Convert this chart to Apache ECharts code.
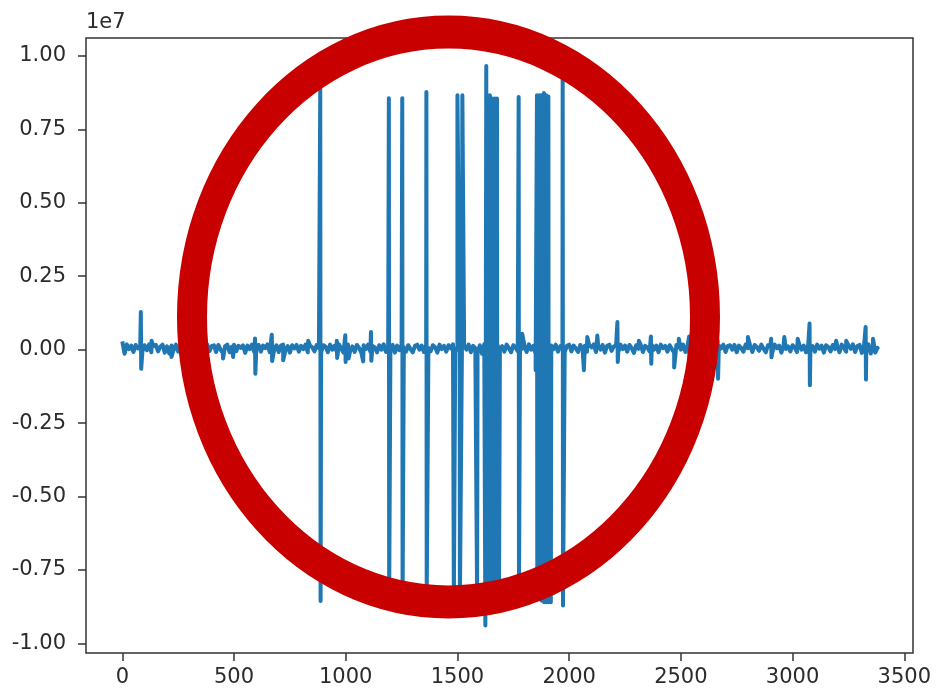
<!DOCTYPE html>
<html>
<head>
<meta charset="utf-8">
<script src="https://cdn.jsdelivr.net/npm/echarts@6/dist/echarts.min.js"></script>
<style>
html,body{margin:0;padding:0;background:#fff;}
#chart{width:938px;height:693px;}
</style>
</head>
<body>
<div id="chart"></div>
<script>
// baseline noise, one value every 10 samples (sample index 0..3380)
const baselineStep = 10;
const baseline = [
28e4,-14e4,18e4,2e4,14e4,-8e4,16e4,4e4,12e4,-6e4,
15e4,-2e4,18e4,-9e4,12e4,16e4,-6e4,10e4,17e4,-10e4,
11e4,-13e4,14e4,0,17e4,-7e4,12e4,15e4,-9e4,13e4,
16e4,-8e4,9e4,17e4,-3e4,14e4,-10e4,12e4,18e4,-5e4,
12e4,15e4,-8e4,16e4,0,-12e4,12e4,17e4,-9e4,10e4,
17e4,-5e4,13e4,6e4,15e4,-11e4,14e4,2e4,17e4,-8e4,
11e4,16e4,-7e4,14e4,5e4,18e4,-9e4,13e4,0,15e4,
-8e4,14e4,17e4,-2e4,12e4,-10e4,15e4,4e4,16e4,-7e4,
13e4,2e4,17e4,-9e4,14e4,8e4,-6e4,16e4,5e4,-8e4,
15e4,10e4,-9e4,17e4,0,13e4,-7e4,18e4,4e4,-10e4,
14e4,17e4,-4e4,11e4,-8e4,16e4,6e4,-11e4,15e4,2e4,
17e4,-7e4,13e4,8e4,-9e4,15e4,0,18e4,-8e4,12e4,
5e4,16e4,-10e4,14e4,-2e4,17e4,8e4,-7e4,15e4,2e4,
-9e4,13e4,17e4,0,14e4,-8e4,16e4,6e4,-6e4,15e4,
8e4,-10e4,17e4,2e4,13e4,-7e4,15e4,4e4,18e4,-8e4,
11e4,16e4,-11e4,14e4,0,17e4,-9e4,13e4,5e4,-12e4,
15e4,-14e4,19e4,-11e4,17e4,-13e4,14e4,-10e4,16e4,2e4,
12e4,-7e4,17e4,5e4,-9e4,15e4,8e4,-6e4,16e4,3e4,
14e4,-8e4,18e4,0,13e4,-16e4,17e4,-12e4,15e4,-10e4,
16e4,-13e4,14e4,2e4,17e4,-7e4,12e4,15e4,-9e4,13e4,
17e4,-6e4,14e4,5e4,-8e4,16e4,3e4,13e4,-7e4,15e4,
8e4,18e4,-8e4,14e4,0,16e4,-10e4,13e4,17e4,-4e4,
11e4,15e4,-9e4,17e4,2e4,14e4,-7e4,16e4,5e4,-11e4,
15e4,3e4,17e4,-8e4,13e4,7e4,-6e4,16e4,0,14e4,
-9e4,17e4,5e4,13e4,-7e4,15e4,2e4,-10e4,16e4,9e4,
0,17e4,-8e4,14e4,7e4,-7e4,16e4,3e4,13e4,-9e4,
15e4,2e4,17e4,-10e4,11e4,16e4,-6e4,14e4,4e4,17e4,
-8e4,13e4,15e4,0,16e4,-9e4,14e4,6e4,-7e4,17e4,
5e4,14e4,-8e4,16e4,9e4,-4e4,17e4,3e4,-9e4,15e4,
12e4,-7e4,17e4,5e4,14e4,-10e4,16e4,2e4,11e4,-6e4,
15e4,7e4,-8e4,17e4,0,14e4,-9e4,16e4,5e4,12e4,
-7e4,17e4,3e4,14e4,-10e4,15e4,9e4,-6e4,16e4,2e4,
14e4,-9e4,17e4,6e4,-7e4,15e4,3e4,18e4,-8e4,12e4,
16e4,-11e4,15e4,0,18e4,-13e4,17e4,-10e4,6e4
];

// spikes: sample index, high value, low value (null = none)
const spikeX = [83,131,220,451,496,594,669,720,832,886,960,998,1013,1078,1113,
  1193,1253,1361,1484,1500,1511,1522,1588,1625,1629,1634,1645,1656,1667,1677,1686,
  1774,1790,1850,1856,1866,1876,1887,1897,1907,1918,1971,
  2066,2081,2126,2216,2312,2366,2470,2491,2537,2665,2800,2904,2963,3023,3076,3195,3240,3327,3360];
const spikeHigh = [1.28e6,3.0e5,null,null,null,3.8e5,5.1e5,null,3.0e5,8.9e6,3.0e5,4.9e5,null,null,6.0e5,
  8.56e6,8.56e6,8.77e6,null,8.66e6,null,8.66e6,null,null,9.66e6,8.66e6,8.66e6,8.55e6,8.55e6,8.55e6,null,
  8.6e6,5.4e5,null,8.66e6,8.66e6,8.66e6,8.74e6,8.66e6,8.62e6,null,9.24e6,
  null,4.3e5,4.8e5,9.4e5,3.0e5,4.5e5,null,3.7e5,4.5e5,3.0e5,4.3e5,3.7e5,4.3e5,3.7e5,8.9e5,3.0e5,3.0e5,7.7e5,3.7e5];
const spikeLow = [-6.5e5,null,-2.5e5,-3.0e5,-2.5e5,-8.2e5,-3.9e5,-3.6e5,null,-8.56e6,-2.8e5,-4.2e5,-3.0e5,-4.0e5,-3.8e5,
  -8.5e6,-8.5e6,-8.4e6,-8.5e6,null,-8.5e6,null,-8.4e6,-9.39e6,null,-8.5e6,-8.5e6,-8.5e6,-8.5e6,-8.5e6,-8.5e6,
  -8.4e6,null,-7.0e5,-8.5e6,-8.5e6,-8.55e6,-8.6e6,-8.6e6,-8.6e6,-8.6e6,-8.71e6,
  -7.0e5,null,null,-4.2e5,null,-4.8e5,-6.1e5,null,-3.0e5,-9.9e5,null,-2.6e5,null,null,-1.21e6,null,null,-1.02e6,null];
const endPoint = [3383, 1e4];

const yTicks = [-1e7,-0.75e7,-0.5e7,-0.25e7,0,0.25e7,0.5e7,0.75e7,1e7];
const xTicks = [0,500,1000,1500,2000,2500,3000,3500];

// assemble the series
const points = baseline.map((v, i) => [i * baselineStep, v]);
spikeX.forEach((x, i) => {
  if (spikeHigh[i] !== null) points.push([x, spikeHigh[i]]);
  if (spikeLow[i] !== null) points.push([x + (spikeHigh[i] !== null ? 1.5 : 0), spikeLow[i]]);
});
points.push(endPoint);
points.sort((a, b) => a[0] - b[0]);

const chart = echarts.init(document.getElementById('chart'), null, {renderer: 'canvas'});
const txt = '#2b2b2b';
const font = 'DejaVu Sans';
chart.setOption({
  animation: false,
  backgroundColor: '#ffffff',
  grid: {left: 86, top: 38, right: 25, bottom: 40, show: true, borderColor: '#333', borderWidth: 1.5, backgroundColor: 'transparent'},
  xAxis: {
    type: 'value', min: -162.5, max: 3539,
    axisLine: {show: false, onZero: false},
    splitLine: {show: false},
    axisTick: {show: true, length: 8, lineStyle: {color: '#333', width: 1.5}, customValues: xTicks},
    axisLabel: {customValues: xTicks, color: txt, fontFamily: font, fontSize: 21, margin: 14,
      formatter: v => String(v)}
  },
  yAxis: {
    type: 'value', min: -1.033e7, max: 1.0613e7,
    name: '1e7', nameLocation: 'end', nameGap: 5,
    nameTextStyle: {align: 'left', verticalAlign: 'bottom', color: txt, fontFamily: font, fontSize: 21},
    axisLine: {show: false, onZero: false},
    splitLine: {show: false},
    axisTick: {show: true, length: 8, lineStyle: {color: '#333', width: 1.5}, customValues: yTicks},
    axisLabel: {customValues: yTicks, color: txt, fontFamily: font, fontSize: 21, margin: 20,
      formatter: v => (v / 1e7).toFixed(2)}
  },
  series: [{
    type: 'line',
    data: points,
    showSymbol: false,
    symbol: 'none',
    lineStyle: {color: '#1f77b4', width: 4, join: 'round'},
    z: 2
  }],
  graphic: [{
    type: 'ellipse',
    z: 100,
    x: 448.5, y: 317,
    scaleY: 1.1,
    shape: {cx: 0, cy: 0, rx: 256.5, ry: 259},
    style: {fill: 'none', stroke: '#c80000', lineWidth: 30}
  }]
});
</script>
</body>
</html>
